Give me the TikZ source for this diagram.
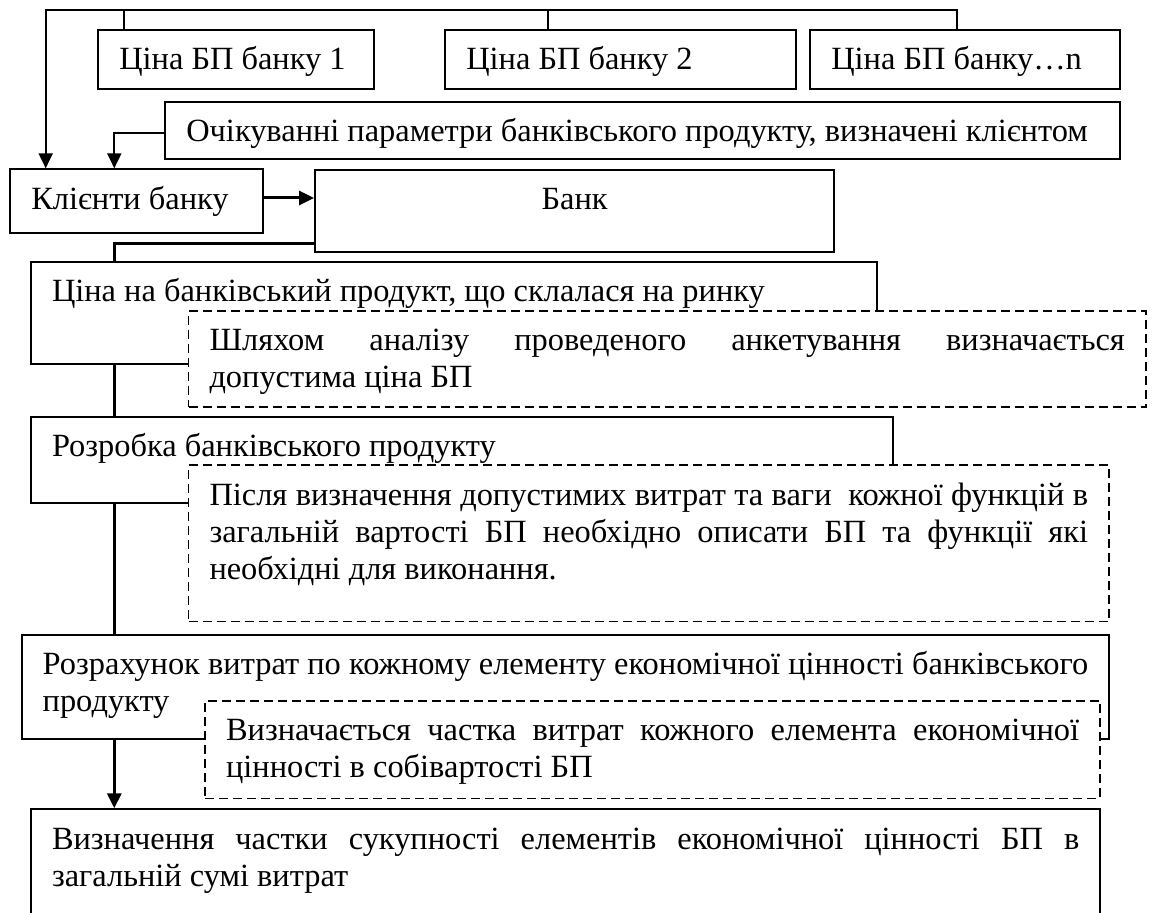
\documentclass[tikz,border=0pt]{standalone}
\usepackage{fontspec}
\setmainfont{Liberation Serif}
\usetikzlibrary{arrows.meta,backgrounds}
\hyphenpenalty=10000
\exhyphenpenalty=10000

\begin{document}
\begin{tikzpicture}[x=0.5pt,y=-0.5pt,>={Triangle[length=7.5pt,width=7pt]},
  box/.style={draw,line width=1pt,fill=white,anchor=north west,
    inner xsep=10.5pt,inner ysep=0pt,text height=20pt,align=flush left,
    font=\fontsize{16.2pt}{18.5pt}\selectfont},
  dbox/.style={box,line width=0.8pt,dash pattern=on 4.5pt off 2.5pt,align=justify},
  link/.style={line width=1pt},
  flow/.style={line width=1.5pt}]
  \useasboundingbox (0,0) rectangle (1155,913);
  \clip (0,0) rectangle (1155,913);

  \node[box,text width=117pt,text depth=9.35pt] (cina1) at (97.3,29) {Ціна БП банку 1};
  \node[box,text width=154.35pt,text depth=9.35pt] (cina2) at (444.3,29) {Ціна БП банку 2};
  \node[box,text width=134pt,text depth=9.35pt] (cinan) at (809.3,29) {Ціна БП банку…n};

  \node[box,text width=456.5pt,text depth=8.65pt] (ochik) at (164.3,100.7)
    {Очікуванні параметри банківського продукту, визначені клієнтом};

  \node[box,text width=105.2pt,text depth=12pt] (klienty) at (9.3,168.3) {Клієнти банку};
  \node[box,align=center,text width=238.65pt,text depth=20.85pt] (bank) at (314,169) {Банк};

  \node[box,text width=402pt,text depth=31.3pt] (tsina) at (30,260.7)
    {Ціна на банківський продукт, що склалася на ринку};
  \node[dbox,text width=457.65pt,text depth=28.25pt] (shlyakh) at (187.7,310)
    {Шляхом аналізу проведеного анкетування визначається\linebreak допустима ціна БП};

  \node[box,text width=409.85pt,text depth=22.85pt] (rozrobka) at (30,416)
    {Розробка банківського продукту};
  \node[dbox,text width=439.3pt,text depth=58pt] (pislya) at (187.7,464.5)
    {Після визначення допустимих витрат та ваги~ кожної функцій в\linebreak
     загальній вартості БП необхідно описати БП та функції які\linebreak
     необхідні для виконання.};

  \node[box,align=justify,text width=522.8pt,text depth=32.4pt] (rozrakh) at (20.7,633.5)
    {Розрахунок витрат по кожному елементу економічної цінності банківського\linebreak продукту};
  \node[dbox,text width=426.5pt,text depth=28.75pt] (vyznach) at (204.3,700)
    {Визначається частка витрат кожного елемента економічної\linebreak цінності в собівартості БП};

  \node[box,align=justify,text width=513.65pt,text depth=60pt] (chastka) at (30,808.3)
    {Визначення частки сукупності елементів економічної цінності БП в\linebreak загальній сумі витрат};

  \coordinate (busL) at (45.7,10);
  \coordinate (bus1) at (124,10);
  \coordinate (bus2) at (547.7,10);
  \coordinate (busN) at (956.7,10);
  \coordinate (kb) at ([yshift=1.65pt]klienty.east);
  \coordinate (bk) at ([yshift=4.5pt]bank.south west);

  \begin{scope}[on background layer]
    \draw[link,->] (busN |- cinan.north) -- (busN) -- (busL) -- (busL |- klienty.north);
    \draw[link] (bus1) -- (bus1 |- cina1.north);
    \draw[link] (bus2) -- (bus2 |- cina2.north);
    \draw[link,->] ([yshift=-1.3pt]ochik.west) -| ([xshift=52.5pt]klienty.north west);
    \draw[flow,->] (kb) -- (kb -| bank.west);
    \draw[flow,->] (bk) -| ([xshift=42.15pt]chastka.north west);
  \end{scope}
\end{tikzpicture}
\end{document}
